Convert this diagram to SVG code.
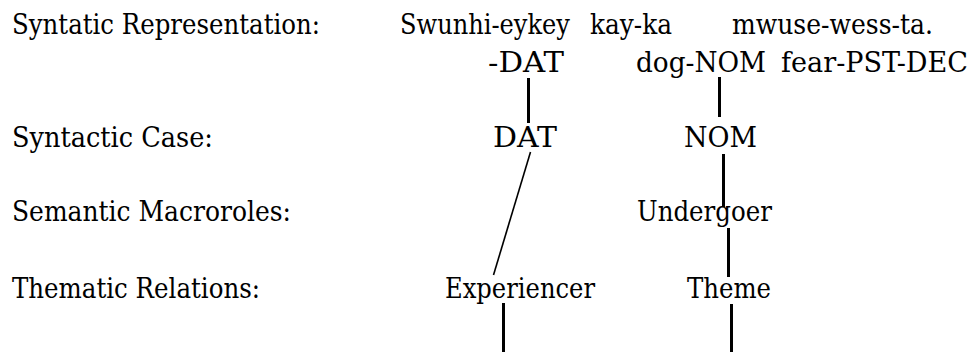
<svg xmlns="http://www.w3.org/2000/svg" width="974" height="352" viewBox="0 0 974 352">
  <style>
    .t { font-family: 'DejaVu Serif', 'Liberation Serif', serif; font-size: 28px; fill: #000; }
    .link { stroke: #000; stroke-width: 3; fill: none; }
    .thin { stroke: #000; stroke-width: 1.6; fill: none; }
  </style>
  <rect width="974" height="352" fill="#fff"/>

  <g class="t">
    <!-- row labels -->
    <g id="labels">
      <text x="12" y="34" textLength="308" lengthAdjust="spacingAndGlyphs">Syntatic Representation:</text>
      <text x="12" y="147" textLength="201" lengthAdjust="spacingAndGlyphs">Syntactic Case:</text>
      <text x="12" y="221" textLength="279" lengthAdjust="spacingAndGlyphs">Semantic Macroroles:</text>
      <text x="12" y="298" textLength="248" lengthAdjust="spacingAndGlyphs">Thematic Relations:</text>
    </g>

    <!-- sentence and glosses -->
    <g id="sentence">
      <text x="400" y="34" textLength="170" lengthAdjust="spacingAndGlyphs">Swunhi-eykey</text>
      <text x="590" y="34" textLength="82" lengthAdjust="spacingAndGlyphs">kay-ka</text>
      <text x="732" y="34" textLength="201" lengthAdjust="spacingAndGlyphs">mwuse-wess-ta.</text>
    </g>
    <g id="gloss-dat"><text x="488" y="72" textLength="76" lengthAdjust="spacingAndGlyphs">-DAT</text></g>
    <g id="gloss-nom"><text x="636" y="72" textLength="130" lengthAdjust="spacingAndGlyphs">dog-NOM</text></g>
    <g id="gloss-verb"><text x="781" y="72" textLength="187" lengthAdjust="spacingAndGlyphs">fear-PST-DEC</text></g>

    <g id="case-dat"><text x="493" y="147" textLength="64" lengthAdjust="spacingAndGlyphs">DAT</text></g>
    <g id="case-nom"><text x="684" y="147" textLength="73" lengthAdjust="spacingAndGlyphs">NOM</text></g>
    <g id="macrorole-undergoer"><text x="637" y="221" textLength="135" lengthAdjust="spacingAndGlyphs">Undergoer</text></g>
    <g id="role-experiencer"><text x="445" y="298" textLength="150" lengthAdjust="spacingAndGlyphs">Experiencer</text></g>
    <g id="role-theme"><text x="687" y="298" textLength="84" lengthAdjust="spacingAndGlyphs">Theme</text></g>
  </g>

  <!-- linking lines -->
  <g id="connectors">
    <line class="link" x1="528.5" y1="78" x2="528.5" y2="123"/>
    <line class="link" x1="719.5" y1="77" x2="719.5" y2="117"/>
    <line class="thin" x1="530.5" y1="152" x2="493.5" y2="275"/>
    <line class="link" x1="723.5" y1="154" x2="723.5" y2="207"/>
    <line class="link" x1="728.5" y1="228" x2="728.5" y2="277"/>
    <line class="link" x1="503.5" y1="303" x2="503.5" y2="352"/>
    <line class="link" x1="731.5" y1="304" x2="731.5" y2="352"/>
  </g>
</svg>
